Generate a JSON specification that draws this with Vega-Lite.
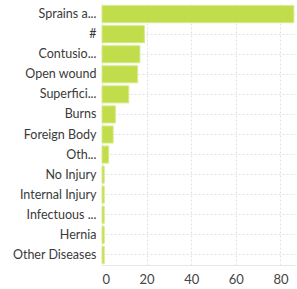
{
  "$schema": "https://vega.github.io/schema/vega-lite/v6.json",
  "width": 193,
  "height": 261,
  "autosize": "none",
  "padding": {"left": 102, "top": 4, "right": 2, "bottom": 24},
  "background": "white",
  "config": {"view": {"stroke": null}, "font": "Lato"},
  "data": {"values": [
    {"injury": "Sprains a...", "count": 86},
    {"injury": "#", "count": 19},
    {"injury": "Contusio...", "count": 17},
    {"injury": "Open wound", "count": 16},
    {"injury": "Superfici...", "count": 12},
    {"injury": "Burns", "count": 6},
    {"injury": "Foreign Body", "count": 5},
    {"injury": "Oth...", "count": 3},
    {"injury": "No Injury", "count": 1},
    {"injury": "Internal Injury", "count": 1},
    {"injury": "Infectuous ...", "count": 1},
    {"injury": "Hernia", "count": 1},
    {"injury": "Other Diseases", "count": 1}
  ]},
  "mark": {"type": "bar", "color": "#c2dd4b", "stroke": "#d6ea8a", "strokeWidth": 1},
  "encoding": {
    "y": {
      "field": "injury", "type": "nominal", "sort": null,
      "scale": {"paddingInner": 0.15, "paddingOuter": 0.08},
      "axis": {
        "title": null, "ticks": false, "domain": true, "domainColor": "#e6e6e6",
        "grid": true, "gridDash": [2, 2], "gridColor": "#e3e3e3", "bandPosition": 0.5,
        "labelFont": "Lato", "labelFontSize": 12.5, "labelColor": "#3a3a3a", "labelPadding": 6,
        "labelLimit": 200
      }
    },
    "x": {
      "field": "count", "type": "quantitative",
      "scale": {"domain": [0, 86.5], "nice": false},
      "axis": {
        "title": null, "ticks": false, "domain": true, "domainColor": "#e6e6e6",
        "grid": true, "gridDash": [2, 2], "gridColor": "#e3e3e3",
        "values": [0, 20, 40, 60, 80],
        "labelFont": "Lato", "labelFontSize": 13, "labelColor": "#444", "labelPadding": 8
      }
    }
  }
}
